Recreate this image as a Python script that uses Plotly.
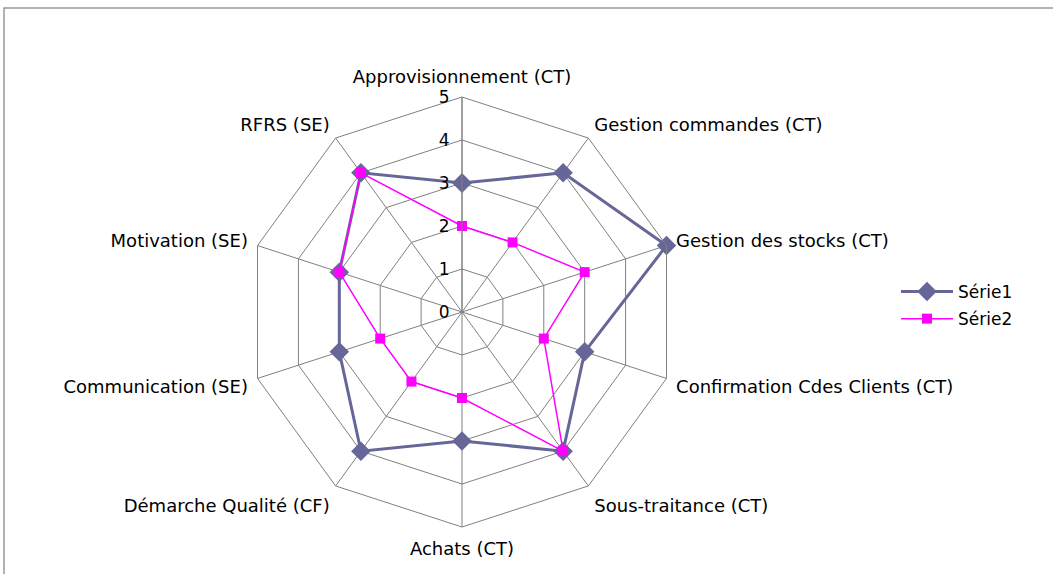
import plotly.graph_objects as go

categories = [
    "Approvisionnement (CT)",
    "Gestion commandes (CT)",
    "Gestion des stocks (CT)",
    "Confirmation Cdes Clients (CT)",
    "Sous-traitance (CT)",
    "Achats (CT)",
    "Démarche Qualité (CF)",
    "Communication (SE)",
    "Motivation (SE)",
    "RFRS (SE)",
]
serie1 = [3, 4, 5, 3, 4, 3, 4, 3, 3, 4]
serie2 = [2, 2, 3, 2, 4, 2, 2, 2, 3, 4]
radial_ticks = [0, 1, 2, 3, 4, 5]

W, H = 1053, 574
cx, cy, R = 462, 312, 215

fig = go.Figure()
fig.add_trace(go.Scatterpolar(
    r=serie1 + serie1[:1], theta=categories + categories[:1], name="Série1",
    mode="lines+markers", legendgroup="a",
    line=dict(color="#666699", width=3),
    marker=dict(symbol="diamond", size=15, color="#666699"),
))
fig.add_trace(go.Scatterpolar(
    r=serie2 + serie2[:1], theta=categories + categories[:1], name="Série2",
    mode="lines+markers", legendgroup="b",
    line=dict(color="#FF00FF", width=1.5),
    marker=dict(symbol="square", size=10, color="#FF00FF"),
))

FAM = "DejaVu Sans, Liberation Sans, Arial, sans-serif"
font = dict(family=FAM, size=18, color="#000000")

fig.update_layout(
    width=W, height=H,
    margin=dict(l=0, r=0, t=0, b=0),
    paper_bgcolor="white",
    plot_bgcolor="white",
    font=font,
    showlegend=True,
    legend=dict(x=896 / W, y=1 - 274 / H, xanchor="left", yanchor="top",
                font=dict(family=FAM, size=17), bgcolor="rgba(0,0,0,0)",
                tracegroupgap=2, itemwidth=52),
    polar=dict(
        domain=dict(x=[(cx - R) / W, (cx + R) / W],
                    y=[(H - cy - R) / H, (H - cy + R) / H]),
        gridshape="linear",
        bgcolor="white",
        angularaxis=dict(
            direction="clockwise", rotation=90,
            categoryorder="array", categoryarray=categories,
            showline=True, linecolor="#808080", linewidth=1,
            gridcolor="#808080", gridwidth=1,
            ticks="outside", ticklen=6, tickcolor="rgba(0,0,0,0)",
            tickfont=font,
        ),
        radialaxis=dict(
            range=[0, 5], tickvals=radial_ticks, ticktext=[str(v) for v in radial_ticks],
            angle=90, tickangle=90, side="counterclockwise",
            showline=True, linecolor="#808080", linewidth=1,
            gridcolor="#808080", gridwidth=1,
            ticks="outside", ticklen=6, tickcolor="rgba(0,0,0,0)",
            tickfont=dict(family=FAM, size=17, color="#000000"),
        ),
    ),
    shapes=[dict(type="rect", xref="paper", yref="paper",
                 x0=4 / W, x1=1.05, y0=-0.05, y1=1 - 8 / H,
                 line=dict(color="#999999", width=1.5))],
)

fig.write_html("out.html", config={"displayModeBar": False},
               post_script="document.body.style.margin='0';")
